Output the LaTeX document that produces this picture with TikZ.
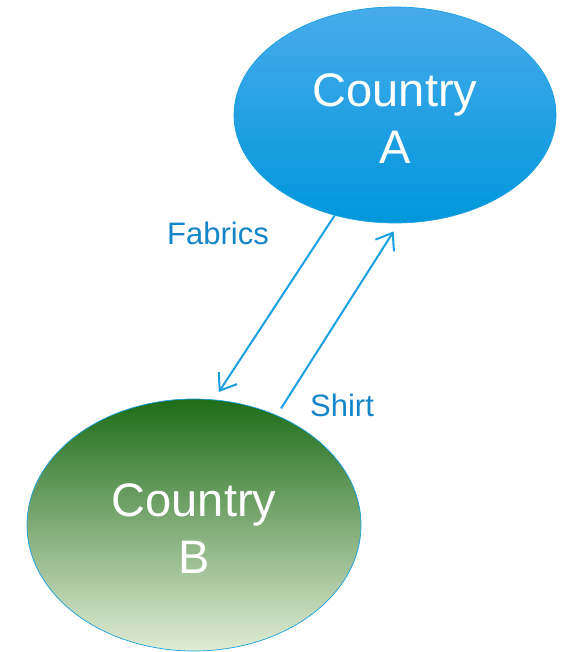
\documentclass[tikz,border=0pt]{standalone}
\usepackage{fontspec}
\setmainfont{Liberation Sans}
\usetikzlibrary{shapes.geometric,arrows.meta}
\definecolor{flowblue}{RGB}{24,160,225}
\definecolor{labelblue}{RGB}{20,134,200}
\tikzset{
    country/.style={ellipse,inner sep=0pt,draw=flowblue,line width=0.7pt,shading=axis},
    countrytext/.style={text=white,align=center,yshift=-4pt,font=\fontsize{47}{57}\selectfont},
    flowarrow/.style={draw=flowblue,line width=2pt,-{Straight Barb[length=15pt,width=22pt,line width=2pt]}},
    flowlabel/.style={text=labelblue,font=\fontsize{31}{37}\selectfont},
}

\begin{document}
\begin{tikzpicture}[x=1pt,y=-1pt]
            \useasboundingbox (0,0) rectangle (561,652);
            \node[country,minimum width=322pt,minimum height=216pt,
                top color={rgb,255:red,72;green,171;blue,235},middle color={rgb,255:red,0;green,165;blue,236},
                bottom color={rgb,255:red,0;green,151;blue,219},
                label={[countrytext]center:Country\\A}] (A) at (395,115) {};
            \node[country,minimum width=334pt,minimum height=252pt,
                top color={rgb,255:red,30;green,108;blue,24},middle color={rgb,255:red,142;green,178;blue,103},
                bottom color={rgb,255:red,224;green,236;blue,213},
                label={[countrytext]center:Country\\B}] (B) at (194,525) {};
            \draw[flowarrow,shorten >=9pt] (A.239.5) -- (B.81.5);
            \draw[flowarrow,shorten <=8pt,shorten >=9.6pt] (B.53.8) -- (A.272.8);
            \node[flowlabel] (fabrics) at (218,233) {Fabrics};
            \node[flowlabel] (shirt) at (342,405) {Shirt};
        \end{tikzpicture}
\end{document}
